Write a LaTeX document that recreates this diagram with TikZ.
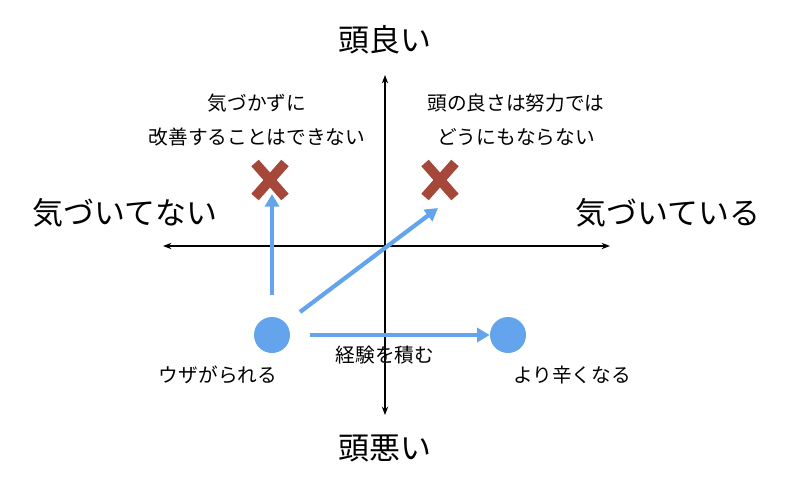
\documentclass[tikz,border=0pt]{standalone}
\usepackage{fontspec}
\setmainfont{Noto Sans CJK JP}
\usetikzlibrary{arrows.meta}
\definecolor{skyblue}{HTML}{64A4EC}
\definecolor{crossred}{HTML}{A5483A}

\begin{document}
\begin{tikzpicture}[x=0.025cm,y=-0.025cm]
    \tikzstyle{axis}=[<->,>={Stealth[length=6pt]},black,thick]
    \tikzstyle{big label}=[font=\fontsize{22}{26}\selectfont]
    \tikzstyle{small label}=[font=\fontsize{14}{17}\selectfont]
    \tikzstyle{dot}=[circle,fill=skyblue,minimum size=0.9cm,inner sep=0pt]
    \tikzstyle{move}=[->,>={Triangle[length=9pt,width=10pt]},skyblue,line width=3pt]
    \tikzstyle{cross}=[crossred,line width=7pt]

    \useasboundingbox (0,0) rectangle (800,489);

    % Axes
    \coordinate (W) at (163,246);
    \coordinate (E) at (610,246);
    \coordinate (N) at (385,75);
    \coordinate (S) at (385,415);
    \draw[axis] (W) -- (E);
    \draw[axis] (S) -- (N);

    % Axis labels
    \node[big label] (top) at (385,40) {頭良い};
    \node[big label] (bottom) at (385,448) {頭悪い};
    \node[big label] (left) at (125,213) {気づいてない};
    \node[big label] (right) at (668,213) {気づいている};

    % Outcomes
    \node[small label,align=center] (fail1) at (257,120) {気づかずに\\[7pt]改善することはできない};
    \node[small label,align=center] (fail2) at (516,120) {頭の良さは努力では\\[7pt]どうにもならない};

    % Crosses
    \foreach \name/\x in {c1/270,c2/440} {
        \coordinate (\name) at (\x,180);
        \draw[cross] ([shift={(-15,-17)}]\name) -- ([shift={(15,17)}]\name);
        \draw[cross] ([shift={(15,-17)}]\name) -- ([shift={(-15,17)}]\name);
    }

    % Dots
    \node[dot] (start) at (272,335) {};
    \node[dot] (goal) at (508,335) {};
    \node[small label] (uza) at (218,375) {ウザがられる};
    \node[small label] (keiken) at (385,355) {経験を積む};
    \node[small label] (tsurai) at (572,375) {より辛くなる};

    % Moves
    \coordinate (up from) at (272,295);
    \coordinate (up to) at (272,194);
    \coordinate (diag from) at (300,312);
    \coordinate (diag to) at (438,208);
    \coordinate (right from) at (310,335);
    \draw[move] (up from) -- (up to);
    \draw[move] (diag from) -- (diag to);
    \draw[move] (right from) -- (goal.west);
\end{tikzpicture}
\end{document}
